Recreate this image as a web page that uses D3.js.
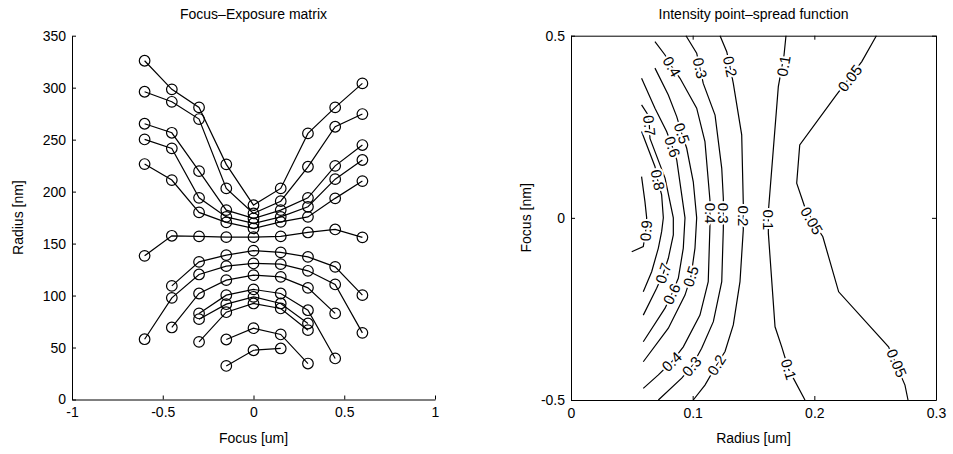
<!DOCTYPE html>
<html>
<head>
<meta charset="utf-8">
<script src="https://cdn.jsdelivr.net/npm/d3@7"></script>
<style>
  body { margin: 0; background: #fff; }
  svg text { font-family: "Liberation Sans", Arial, Helvetica, sans-serif; font-size: 14px; fill: #000; }
</style>
</head>
<body>
<div id="chart_div"></div>
<script>
// ---- data ----
// left panel: focus-exposure matrix, radius [nm] per focus [um]
const focus_values = [-0.6, -0.45, -0.3, -0.15, 0, 0.15, 0.3, 0.45, 0.6];
const curve_u1 = [325.9, 298.4, 281.0, 226.2, 187.0, 203.1, 256.0, 281.0, 304.1];
const curve_u2 = [296.1, 286.4, 269.8, 203.1, 179.0, 190.8, 223.9, 262.4, 274.6];
const curve_u3 = [265.3, 256.6, 219.7, 182.2, 174.2, 182.2, 194.0, 224.8, 244.8];
const curve_u4 = [250.2, 241.6, 194.0, 175.7, 169.4, 175.7, 185.4, 212.0, 230.4];
const curve_u5 = [226.5, 211.1, 180.0, 170.4, 164.6, 170.9, 175.7, 193.5, 210.1];
const curve_mid = [138.2, 157.5, 156.9, 156.2, 156.2, 156.9, 160.7, 163.6, 156.0];
const curve_l1 = [null, 109.3, 132.4, 138.9, 143.2, 141.5, 137.2, 127.6, 100.4];
const curve_l2 = [58.0, 97.8, 120.3, 128.3, 130.9, 130.2, 123.8, 110.7, 64.1];
const curve_l3 = [null, 69.3, 102.0, 114.8, 119.6, 118.0, 107.4, 82.8, null];
const curve_l4 = [null, null, 82.8, 100.4, 105.9, 102.0, 85.9, 39.5, null];
const curve_l5 = [null, null, 77.3, 91.7, 98.8, 92.4, 73.1, null, null];
const curve_l6 = [null, null, 55.4, 84.0, 92.4, 87.6, 66.7, null, null];
const curve_l7 = [null, null, null, 57.7, 68.6, 62.6, 34.6, null, null];
const curve_l8 = [null, null, null, 32.3, 47.4, 49.1, null, null, null];
const fem_curves = [curve_u1, curve_u2, curve_u3, curve_u4, curve_u5, curve_mid,
                    curve_l1, curve_l2, curve_l3, curve_l4, curve_l5, curve_l6, curve_l7, curve_l8];
const fem_x_ticks = [-1, -0.5, 0, 0.5, 1];
const fem_y_ticks = [0, 50, 100, 150, 200, 250, 300, 350];

// right panel: contour lines of the intensity PSF, [radius um, focus um]
const psf_005 = [[0.251,0.5],[0.239,0.429],[0.218,0.337],[0.188,0.200],[0.1855,0.095],[0.192,0.031],[0.199,-0.010],[0.207,-0.052],[0.220,-0.203],[0.261,-0.354],[0.2745,-0.459],[0.277,-0.5]];
const psf_01 = [[0.1767,0.5],[0.1751,0.447],[0.1704,0.360],[0.1622,0.017],[0.1622,-0.042],[0.1677,-0.299],[0.1732,-0.354],[0.1789,-0.416],[0.1923,-0.5]];
const psf_02 = [[0.1225,0.5],[0.128,0.456],[0.1307,0.415],[0.1334,0.369],[0.1403,0.228],[0.1416,0.040],[0.1416,-0.033],[0.1389,-0.175],[0.1334,-0.294],[0.1266,-0.367],[0.1197,-0.404],[0.1101,-0.459],[0.1005,-0.5]];
const psf_03 = [[0.0945,0.5],[0.1033,0.452],[0.106,0.411],[0.1087,0.369],[0.1184,0.282],[0.1239,0.136],[0.1252,0.054],[0.1252,-0.029],[0.1239,-0.175],[0.117,-0.285],[0.1074,-0.358],[0.0992,-0.408],[0.091,-0.44],[0.0718,-0.5]];
const psf_04 = [[0.069,0.484],[0.0773,0.447],[0.0828,0.415],[0.0896,0.383],[0.1033,0.301],[0.1101,0.209],[0.1142,0.049],[0.1142,-0.024],[0.1128,-0.175],[0.106,-0.267],[0.0923,-0.354],[0.0828,-0.395],[0.0718,-0.431],[0.0594,-0.468]];
const psf_05 = [[0.069,0.411],[0.08,0.337],[0.0869,0.278],[0.091,0.232],[0.0951,0.191],[0.1005,0.099],[0.1033,0.0],[0.1019,-0.083],[0.0986,-0.161],[0.0937,-0.212],[0.08,-0.303],[0.0594,-0.395]];
const psf_06 = [[0.058,0.383],[0.069,0.301],[0.0786,0.237],[0.0833,0.195],[0.0869,0.159],[0.0937,0.0],[0.0923,-0.083],[0.0882,-0.166],[0.0828,-0.209],[0.0773,-0.248],[0.0594,-0.34]];
const psf_07 = [[0.058,0.31],[0.0635,0.282],[0.0644,0.253],[0.0649,0.218],[0.0773,0.109],[0.0841,0.0],[0.0841,-0.047],[0.08,-0.111],[0.0759,-0.152],[0.0704,-0.193],[0.0594,-0.267]];
const psf_08 = [[0.058,0.237],[0.069,0.141],[0.0712,0.104],[0.0745,0.063],[0.0759,0.0],[0.0745,-0.038],[0.0718,-0.083],[0.0663,-0.148],[0.0594,-0.203]];
const psf_09 = [[0.058,0.113],[0.0608,0.044],[0.0622,0.0],[0.0613,-0.04],[0.0594,-0.079],[0.0499,-0.093]];
const psf_levels = ["0.05", "0.1", "0.2", "0.3", "0.4", "0.5", "0.6", "0.7", "0.8", "0.9"];
const psf_lines = [psf_005, psf_01, psf_02, psf_03, psf_04, psf_05, psf_06, psf_07, psf_08, psf_09];
// where each level's labels sit on its line
const psf_label_level = ["0.05","0.05","0.05","0.1","0.1","0.1","0.2","0.2","0.2","0.3","0.3","0.3","0.4","0.4","0.4","0.5","0.5","0.6","0.6","0.7","0.7","0.8","0.9"];
const psf_label_r = [0.2293,0.1978,0.2677,0.1748,0.1618,0.1789,0.1307,0.1416,0.1197,0.106,0.1252,0.0992,0.0828,0.1142,0.0828,0.091,0.0986,0.0833,0.0828,0.0644,0.0759,0.0712,0.0617];
const psf_label_f = [0.383,-0.008,-0.399,0.417,-0.006,-0.416,0.415,0.005,-0.404,0.411,0.013,-0.408,0.415,0.013,-0.395,0.232,-0.161,0.195,-0.209,0.253,-0.152,0.104,-0.035];
const psf_x_ticks = [0, 0.1, 0.2, 0.3];
const psf_y_ticks = [-0.5, 0, 0.5];

// ---- layout ----
const svg_width = 953, svg_height = 454;
const fem_box = {left: 72, right: 435, top: 35.7, bottom: 399.5};
const psf_box = {left: 571, right: 936, top: 35.7, bottom: 400};
const tick_len = 4;

const svg = d3.select("#chart_div")
  .append("svg")
    .attr("width", svg_width)
    .attr("height", svg_height);

function styleAxis(g) {
  g.select(".domain").attr("stroke", "#000").attr("stroke-width", 1);
  g.selectAll(".tick line").attr("stroke", "#000");
  g.selectAll(".tick text").style("font-size", "14px");
}

// ================= left panel =================
const fem_x = d3.scaleLinear().domain([-1, 1]).range([fem_box.left, fem_box.right]);
const fem_y = d3.scaleLinear().domain([0, 350]).range([fem_box.bottom, fem_box.top]);

svg.append("g")
  .attr("transform", `translate(0, ${fem_box.bottom})`)
  .call(d3.axisBottom(fem_x).tickValues(fem_x_ticks).tickSizeInner(-tick_len).tickSizeOuter(0)
        .tickPadding(8).tickFormat(d => String(d)))
  .call(styleAxis);

svg.append("g")
  .attr("transform", `translate(${fem_box.left}, 0)`)
  .call(d3.axisLeft(fem_y).tickValues(fem_y_ticks).tickSizeInner(-tick_len).tickSizeOuter(0)
        .tickPadding(6).tickFormat(d => String(d)))
  .call(styleAxis);

const fem_line = d3.line()
  .defined(d => d[1] !== null)
  .x(d => fem_x(d[0]))
  .y(d => fem_y(d[1]));

fem_curves.forEach(function (curve) {
  const pts = focus_values.map((f, i) => [f, curve[i]]);
  svg.append("path")
    .datum(pts)
    .attr("d", fem_line)
    .attr("fill", "none")
    .attr("stroke", "#000")
    .attr("stroke-width", 1.2);
  svg.append("g")
    .selectAll("circle")
    .data(pts.filter(d => d[1] !== null))
    .join("circle")
      .attr("cx", d => fem_x(d[0]))
      .attr("cy", d => fem_y(d[1]))
      .attr("r", 5.3)
      .attr("fill", "none")
      .attr("stroke", "#000")
      .attr("stroke-width", 1.2);
});

svg.append("text")
  .attr("text-anchor", "middle")
  .attr("x", (fem_box.left + fem_box.right) / 2)
  .attr("y", 19)
  .text("Focus\u2013Exposure matrix");

svg.append("text")
  .attr("text-anchor", "middle")
  .attr("x", (fem_box.left + fem_box.right) / 2)
  .attr("y", 443)
  .text("Focus [um]");

svg.append("text")
  .attr("text-anchor", "middle")
  .attr("transform", `translate(23, ${(fem_box.top + fem_box.bottom) / 2}) rotate(-90)`)
  .text("Radius [nm]");

// ================= right panel =================
const psf_x = d3.scaleLinear().domain([0, 0.3]).range([psf_box.left, psf_box.right]);
const psf_y = d3.scaleLinear().domain([-0.5, 0.5]).range([psf_box.bottom, psf_box.top]);

svg.append("g")
  .attr("transform", `translate(0, ${psf_box.bottom})`)
  .call(d3.axisBottom(psf_x).tickValues(psf_x_ticks).tickSizeInner(-tick_len).tickSizeOuter(0)
        .tickPadding(8).tickFormat(d => String(d)))
  .call(styleAxis);
svg.append("g")
  .attr("transform", `translate(0, ${psf_box.top})`)
  .call(d3.axisTop(psf_x).tickValues(psf_x_ticks).tickSizeInner(-tick_len).tickSizeOuter(0).tickFormat(""))
  .call(styleAxis);
svg.append("g")
  .attr("transform", `translate(${psf_box.left}, 0)`)
  .call(d3.axisLeft(psf_y).tickValues(psf_y_ticks).tickSizeInner(-tick_len).tickSizeOuter(0)
        .tickPadding(6).tickFormat(d => String(d)))
  .call(styleAxis);
svg.append("g")
  .attr("transform", `translate(${psf_box.right}, 0)`)
  .call(d3.axisRight(psf_y).tickValues(psf_y_ticks).tickSizeInner(-tick_len).tickSizeOuter(0).tickFormat(""))
  .call(styleAxis);

const psf_line = d3.line()
  .x(d => psf_x(d[0]))
  .y(d => psf_y(d[1]));

svg.append("g")
  .selectAll("path")
  .data(psf_lines)
  .join("path")
    .attr("d", psf_line)
    .attr("fill", "none")
    .attr("stroke", "#000")
    .attr("stroke-width", 1.2);

// label angle follows the local direction of its contour line
function labelAngle(pts, r, f) {
  let best = 0, bestDist = Infinity;
  for (let i = 0; i < pts.length - 1; i++) {
    const mx = (psf_x(pts[i][0]) + psf_x(pts[i + 1][0])) / 2;
    const my = (psf_y(pts[i][1]) + psf_y(pts[i + 1][1])) / 2;
    const dd = (mx - psf_x(r)) ** 2 + (my - psf_y(f)) ** 2;
    if (dd < bestDist) { bestDist = dd; best = i; }
  }
  const dx = psf_x(pts[best + 1][0]) - psf_x(pts[best][0]);
  const dy = psf_y(pts[best + 1][1]) - psf_y(pts[best][1]);
  let a = Math.atan2(dy, dx) * 180 / Math.PI;
  if (a > 90) a -= 180;
  if (a <= -90) a += 180;
  return a;
}

const psf_labels = psf_label_level.map((lev, i) => ({
  text: lev,
  r: psf_label_r[i],
  f: psf_label_f[i],
  angle: labelAngle(psf_lines[psf_levels.indexOf(lev)], psf_label_r[i], psf_label_f[i])
}));

svg.append("g")
  .selectAll("text")
  .data(psf_labels)
  .join("text")
    .attr("text-anchor", "middle")
    .attr("dy", "0.35em")
    .attr("transform", d => `translate(${psf_x(d.r)}, ${psf_y(d.f)}) rotate(${d.angle})`)
    .style("font-size", "15px")
    .style("stroke", "#fff")
    .style("stroke-width", 4)
    .style("paint-order", "stroke")
    .text(d => d.text);

svg.append("text")
  .attr("text-anchor", "middle")
  .attr("x", (psf_box.left + psf_box.right) / 2)
  .attr("y", 19)
  .text("Intensity point\u2013spread function");

svg.append("text")
  .attr("text-anchor", "middle")
  .attr("x", (psf_box.left + psf_box.right) / 2)
  .attr("y", 443)
  .text("Radius [um]");

svg.append("text")
  .attr("text-anchor", "middle")
  .attr("transform", `translate(531, ${(psf_box.top + psf_box.bottom) / 2}) rotate(-90)`)
  .text("Focus [nm]");
</script>
</body>
</html>
